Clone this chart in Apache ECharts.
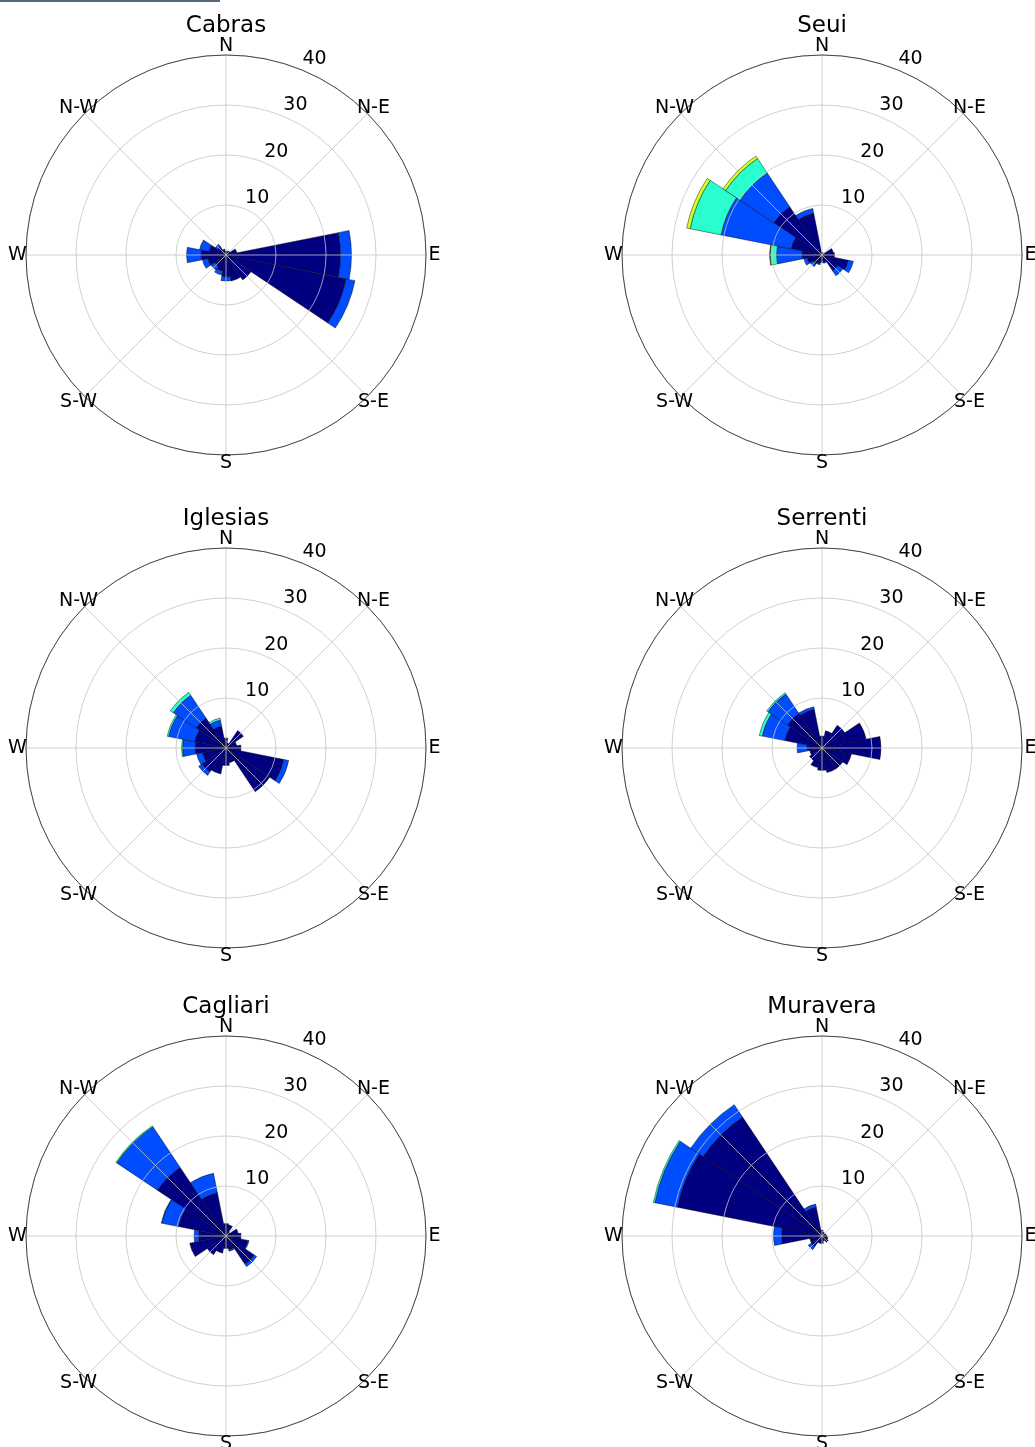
<!DOCTYPE html>
<html>
<head>
<meta charset="utf-8">
<script src="https://cdn.jsdelivr.net/npm/echarts@6/dist/echarts.min.js"></script>
<style>
html, body { margin: 0; padding: 0; background: #fff; }
#chart { width: 1035px; height: 1447px; }
</style>
</head>
<body>
<div id="chart"></div>
<script>
// Wind direction sectors, clockwise from North
const directions = ['N','NNE','NE','ENE','E','ESE','SE','SSE','S','SSW','SW','WSW','W','WNW','NW','NNW'];
const compassLabels = ['N','N-E','E','S-E','S','S-W','W','N-W'];
const compassAngles = [0, 45, 90, 135, 180, 225, 270, 315];
const radialTicks = [10, 20, 30, 40];
const stations = ['Cabras', 'Seui', 'Iglesias', 'Serrenti', 'Cagliari', 'Muravera'];
const binColors = ['#000080', '#004cff', '#29ffce', '#ceff29'];

// Frequency (%) per sector, one array per speed bin (stacked outward)
const cabrasBin1 = [0.8, 0.8, 1.0, 2.2, 22.9, 24.5, 6.0, 5.3, 4.4, 3.3, 2.7, 3.7, 5.0, 3.5, 2.0, 1.0];
const cabrasBin2 = [0, 0, 0, 0, 2.2, 1.8, 0, 0, 0.8, 0.8, 0.9, 1.1, 2.9, 1.9, 0.6, 0.2];
const cabrasBin3 = [0, 0, 0, 0, 0, 0, 0, 0, 0, 0, 0, 0, 0, 0, 0, 0];
const cabrasBin4 = [0, 0, 0, 0, 0, 0, 0, 0, 0, 0, 0, 0, 0, 0, 0, 0];

const seuiBin1 = [0.5, 0.5, 0.4, 2.3, 2.5, 5.4, 3.8, 1.5, 1.3, 1.8, 2.2, 3.0, 4.0, 6.3, 11.6, 8.5];
const seuiBin2 = [0, 0, 0, 0, 0, 1.0, 1.2, 0.2, 0.2, 0.2, 0.6, 0.7, 5.1, 14.3, 8.1, 1.0];
const seuiBin3 = [0, 0, 0, 0, 0, 0, 0, 0, 0, 0, 0, 0, 1.3, 6.3, 3.5, 0];
const seuiBin4 = [0, 0, 0, 0, 0, 0, 0, 0, 0, 0, 0, 0, 0.1, 0.7, 0.6, 0];

const iglesiasBin1 = [2.0, 1.0, 4.2, 2.2, 3.0, 11.8, 10.5, 3.0, 3.5, 5.3, 5.8, 4.8, 6.2, 6.4, 7.2, 4.5];
const iglesiasBin2 = [0, 0, 0, 0, 0, 1.0, 0, 0, 0, 0, 0.8, 1.2, 2.5, 5.3, 5.5, 1.2];
const iglesiasBin3 = [0, 0, 0, 0, 0, 0, 0, 0, 0, 0, 0, 0, 0.2, 0.3, 0.7, 0.4];
const iglesiasBin4 = [0, 0, 0, 0, 0, 0, 0, 0, 0, 0, 0, 0, 0, 0, 0, 0];

const serrentiBin1 = [2.4, 3.5, 5.5, 9.0, 11.8, 6.0, 5.0, 5.0, 4.5, 4.0, 3.0, 2.5, 3.0, 7.6, 8.3, 7.9];
const serrentiBin2 = [0, 0, 0, 0, 0, 0, 0, 0, 0, 0, 0, 0, 2.0, 4.6, 4.7, 0.5];
const serrentiBin3 = [0, 0, 0, 0, 0, 0, 0, 0, 0, 0, 0, 0, 0, 0.6, 0.3, 0];
const serrentiBin4 = [0, 0, 0, 0, 0, 0, 0, 0, 0, 0, 0, 0, 0, 0, 0, 0];

const cagliariBin1 = [2.5, 2.3, 1.0, 2.5, 3.0, 4.5, 6.8, 2.8, 2.5, 3.5, 4.5, 7.4, 5.5, 9.7, 16.5, 8.8];
const cagliariBin2 = [0, 0, 0, 0, 0, 0.2, 0.6, 0.3, 0, 0, 0, 0, 0.9, 3.4, 9.8, 4.0];
const cagliariBin3 = [0, 0, 0, 0, 0, 0, 0, 0, 0, 0, 0, 0, 0, 0.1, 0.2, 0];
const cagliariBin4 = [0, 0, 0, 0, 0, 0, 0, 0, 0, 0, 0, 0, 0, 0, 0, 0];

const muraveraBin1 = [1.2, 0.8, 0.6, 0.8, 1.0, 1.2, 1.5, 1.0, 1.5, 1.5, 2.6, 2.5, 8.1, 29.5, 28.6, 5.9];
const muraveraBin2 = [0, 0, 0, 0, 0, 0, 0, 0, 0, 0, 0.7, 0, 1.6, 4.6, 3.0, 0.6];
const muraveraBin3 = [0, 0, 0, 0, 0, 0, 0, 0, 0, 0, 0, 0, 0, 0.3, 0, 0];
const muraveraBin4 = [0, 0, 0, 0, 0, 0, 0, 0, 0, 0, 0, 0, 0, 0, 0, 0];

const stationBins = [
  [cabrasBin1, cabrasBin2, cabrasBin3, cabrasBin4],
  [seuiBin1, seuiBin2, seuiBin3, seuiBin4],
  [iglesiasBin1, iglesiasBin2, iglesiasBin3, iglesiasBin4],
  [serrentiBin1, serrentiBin2, serrentiBin3, serrentiBin4],
  [cagliariBin1, cagliariBin2, cagliariBin3, cagliariBin4],
  [muraveraBin1, muraveraBin2, muraveraBin3, muraveraBin4]
];

// Layout: two columns, three rows of roses
const colX = [226, 822];
const rowY = [255, 748, 1236];
const roseRadius = 200;
const FONT = 'DejaVu Sans';
const gridColor = '#c4c4c4';
const LABEL_FONT = '19px "' + FONT + '"';

const polar = [], angleAxis = [], radiusAxis = [], series = [], graphic = [];

stations.forEach((name, s) => {
  const cx = colX[s % 2];
  const cy = rowY[Math.floor(s / 2)];
  const pBars = 2 * s, pGrid = 2 * s + 1;

  polar.push({ center: [cx, cy], radius: roseRadius });
  polar.push({ center: [cx, cy], radius: roseRadius });

  // Sector axis for the wedges: each band centred on its compass direction
  angleAxis.push({
    polarIndex: pBars, type: 'category', data: directions,
    startAngle: 90 + 360 / directions.length / 2, clockwise: true, boundaryGap: true,
    axisLine: { show: false }, axisTick: { show: false },
    axisLabel: { show: false }, splitLine: { show: false }
  });
  radiusAxis.push({
    polarIndex: pBars, type: 'value', min: 0, max: 40,
    axisLine: { show: false }, axisTick: { show: false },
    axisLabel: { show: false }, splitLine: { show: false }
  });

  // Grid drawn above the wedges: spokes every 45 deg, rings every 10 %
  angleAxis.push({
    polarIndex: pGrid, type: 'value', min: 0, max: 360, interval: 45,
    startAngle: 90, clockwise: true, z: 10,
    axisLine: { show: true, lineStyle: { color: '#222', width: 0.8 } },
    axisTick: { show: false }, axisLabel: { show: false },
    splitLine: { show: true, lineStyle: { color: gridColor, width: 0.8 } }
  });
  radiusAxis.push({
    polarIndex: pGrid, type: 'value', min: 0, max: 40, interval: 10, z: 10,
    axisLine: { show: false }, axisTick: { show: false }, axisLabel: { show: false },
    splitLine: { show: true, lineStyle: { color: gridColor, width: 0.8 } }
  });

  stationBins[s].forEach((bin, b) => {
    series.push({
      type: 'bar', coordinateSystem: 'polar', polarIndex: pBars,
      stack: 'rose' + s, barCategoryGap: '0%', silent: true, z: 2,
      data: bin.map(v => (v > 0 ? v : '-')),
      itemStyle: { color: binColors[b], borderColor: 'rgba(0,0,0,0.85)', borderWidth: 0.5 }
    });
  });

  // Station name above each rose
  graphic.push({
    type: 'text', x: cx, y: cy - 229, silent: true,
    style: {
      text: name, fill: '#000', font: '23px "' + FONT + '"',
      textAlign: 'center', textVerticalAlign: 'middle'
    }
  });
});

graphic.push({
  type: 'rect', left: 0, top: 0, silent: true,
  shape: { width: 220, height: 2 }, style: { fill: '#56687a' }
});

const chart = echarts.init(document.getElementById('chart'), null, { renderer: 'canvas' });
chart.setOption({
  animation: false,
  backgroundColor: '#fff',
  textStyle: { fontFamily: FONT },
  polar, angleAxis, radiusAxis, series
});

// Axis labels placed through each grid's own polar scale
stations.forEach((name, s) => {
  const pGrid = 2 * s + 1;
  compassAngles.forEach((a, i) => {
    const p = chart.convertToPixel({ polarIndex: pGrid }, [40, a]);
    const rad = a * Math.PI / 180;
    graphic.push({
      type: 'text', silent: true, z: 30,
      x: p[0] + 8.5 * Math.sin(rad), y: p[1] - 8.5 * Math.cos(rad),
      style: { text: compassLabels[i], fill: '#000', font: LABEL_FONT, textAlign: 'center', textVerticalAlign: 'middle' }
    });
  });
  radialTicks.forEach(r => {
    const p = chart.convertToPixel({ polarIndex: pGrid }, [r, 22.5]);
    graphic.push({
      type: 'text', silent: true, z: 30,
      x: p[0] + 12, y: p[1] - 11,
      style: { text: String(r), fill: '#000', font: LABEL_FONT, textAlign: 'center', textVerticalAlign: 'middle' }
    });
  });
});

chart.setOption({ graphic });
</script>
</body>
</html>
